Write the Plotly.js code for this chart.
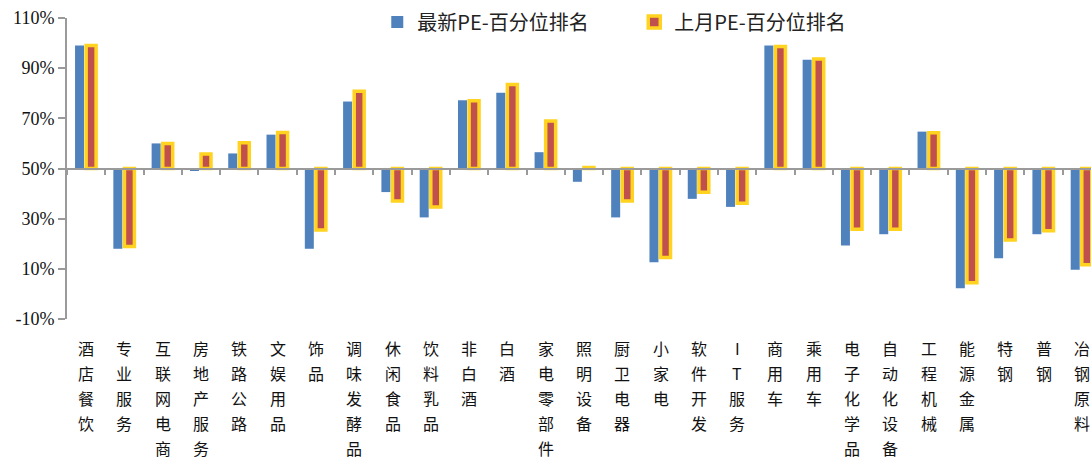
<!DOCTYPE html>
<html><head><meta charset="utf-8">
<script src="https://cdn.plot.ly/plotly-3.0.1.min.js"></script>
<style>body{margin:0;background:#fff}#chart{width:1091px;height:461px}</style>
</head><body><div id="chart"></div>
<script>
const categories = ['酒店餐饮','专业服务','互联网电商','房地产服务','铁路公路','文娱用品','饰品','调味发酵品','休闲食品','饮料乳品','非白酒','白酒','家电零部件','照明设备','厨卫电器','小家电','软件开发','IT服务','商用车','乘用车','电子化学品','自动化设备','工程机械','能源金属','特钢','普钢','冶钢原料'];
const latest = [99, 18, 60, 49, 56, 63.5, 18, 76.7, 40.6, 30.5, 77.2, 80.2, 56.5, 44.7, 30.5, 12.6, 37.9, 34.7, 99, 93.4, 19.3, 23.8, 64.7, 2.3, 14.2, 23.8, 9.6];
const lastMonth = [99, 18.9, 60, 55.8, 60.3, 64.4, 25.5, 80.8, 37, 34.7, 77, 83.5, 68.9, 50.4, 37, 14.5, 40.5, 36.1, 98.6, 93.7, 25.8, 25.8, 64.3, 4.5, 21.5, 25.2, 11.6];
const seriesNames = ['最新PE-百分位排名', '上月PE-百分位排名'];
const baseLine = 50;
const yTicks = [-10, 10, 30, 50, 70, 90, 110];

const xr = [-0.5, 26.24];
const plotTop = 18, plotBottom = 319;
const plotH = plotBottom - plotTop;
const firstRowPx = 347.5, rowStepPx = 25;

// vertical category labels: one character per row
const annotations = [];
categories.forEach(c => {
  c.split('').forEach((ch, j) => {
    annotations.push({
      text: ch, x: c, xref: 'x', yref: 'paper',
      y: (plotBottom - (firstRowPx + j * rowStepPx)) / plotH,
      xanchor: 'center', yanchor: 'middle', showarrow: false,
      font: {family: 'Noto Sans CJK SC', size: 16, color: '#111'}
    });
  });
});

const traces = [
  {type:'bar', name:seriesNames[0], x:categories, y:latest.map(v=>v-baseLine), base:baseLine,
   offset:-0.29, width:0.235, marker:{color:'#4F81BD', line:{width:0}}},
  {type:'bar', name:seriesNames[1], x:categories, y:lastMonth.map(v=>v-baseLine), base:baseLine,
   offset:0.0, width:0.26, marker:{color:'#C0504D', line:{color:'#FFD320', width:3.5}}},
  {type:'scatter', x:categories, y:categories.map(()=>null), xaxis:'x2', showlegend:false, hoverinfo:'skip'}
];

const layout = {
  width:1091, height:461,
  margin:{l:67, r:0, t:plotTop, b:461-plotBottom},
  paper_bgcolor:'#fff', plot_bgcolor:'#fff',
  showlegend:true,
  legend:{orientation:'h', x:0.303, xanchor:'left', y:0.987, yanchor:'middle',
    font:{family:'Noto Sans CJK SC', size:20, color:'#222'}, entrywidth:212, itemwidth:30,
    bgcolor:'rgba(255,255,255,0)'},
  xaxis:{type:'category', range:xr, showticklabels:false, showline:false, ticks:'',
    showgrid:false, zeroline:false},
  xaxis2:{type:'category', overlaying:'x', anchor:'free', position:0.5, range:xr,
    categoryarray:categories, categoryorder:'array',
    showline:true, linecolor:'#9a9a9a', linewidth:2, ticks:'outside', tickson:'boundaries',
    ticklen:5, tickwidth:2, tickcolor:'#9a9a9a', showticklabels:false, showgrid:false, zeroline:false},
  yaxis:{range:[-10,110], tickvals:yTicks, ticktext:yTicks.map(v=>v+'%'), showgrid:false, zeroline:false,
    showline:true, linecolor:'#9a9a9a', linewidth:2, ticks:'outside', ticklen:7, tickwidth:2, tickcolor:'#9a9a9a',
    tickfont:{family:'Liberation Serif', size:18, color:'#111'}},
  annotations: annotations,
  bargap:0.4
};
Plotly.newPlot('chart', traces, layout, {displayModeBar:false, staticPlot:true});
</script></body></html>
